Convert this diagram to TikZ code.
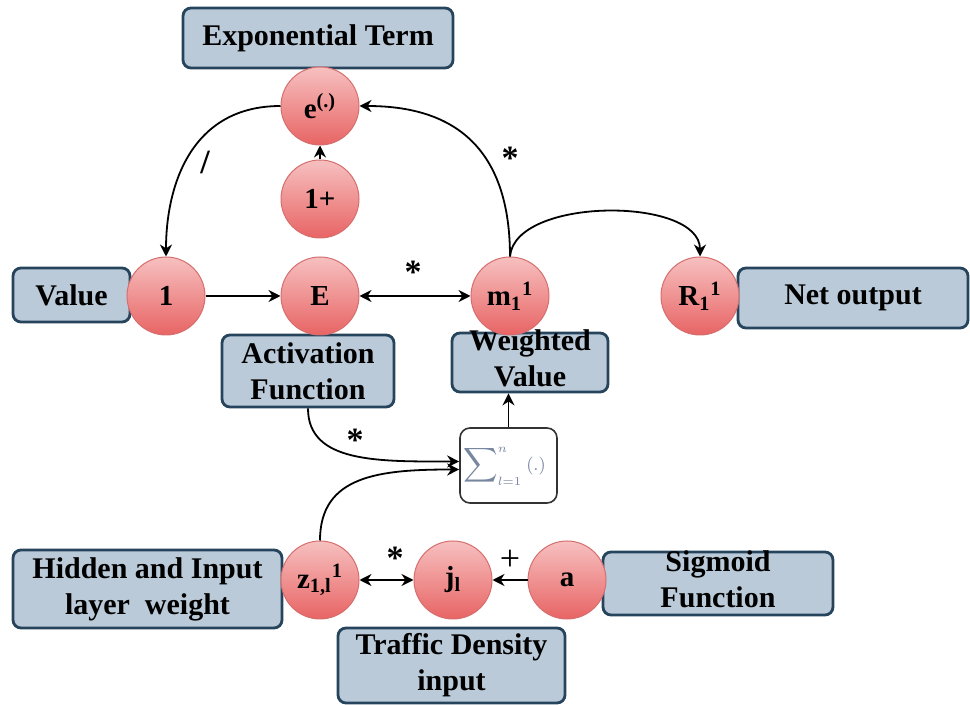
\documentclass[tikz,border=0pt]{standalone}
\usepackage{exscale}
\usepackage{fontspec}
\setmainfont{Liberation Serif}
\usetikzlibrary{arrows.meta}
\definecolor{boxfill}{RGB}{186,202,216}
\definecolor{boxdraw}{RGB}{38,68,92}
\definecolor{ctop}{RGB}{247,192,192}
\definecolor{cbot}{RGB}{232,100,100}
\definecolor{cdraw}{RGB}{214,110,110}
\definecolor{sumtext}{RGB}{120,135,160}
\begin{document}
\begin{tikzpicture}[x=0.5pt,y=-0.5pt,
 tbox/.style={draw=boxdraw, line width=1.4pt, fill=boxfill, rounded corners=4pt, inner sep=0pt, align=center, font=\fontsize{15}{18}\selectfont\bfseries},
 cnode/.style={circle, draw=cdraw, line width=0.5pt, top color=ctop, bottom color=cbot, minimum size=39pt, inner sep=0pt, font=\fontsize{14.5}{17}\selectfont\bfseries},
 conn/.style={line width=0.9pt, -{Stealth[length=6pt,width=6pt]}},
 dconn/.style={line width=0.9pt, {Stealth[length=6pt,width=6pt]}-{Stealth[length=6pt,width=6pt]}},
 op/.style={font=\fontsize{17}{17}\selectfont\bfseries, inner sep=0pt}
]
\fill[white] (0,0) rectangle (970,705);
\useasboundingbox (0,0) rectangle (970,705);

% boxes
\node[tbox, minimum width=135pt, minimum height=30pt] (expt) at (318,38) {Exponential Term};
\node[tbox, minimum width=58.5pt, minimum height=27pt] (val) at (71.5,295) {Value};
\node[tbox, minimum width=115pt, minimum height=30pt] (net) at (853,298) {Net output};
\node[tbox, minimum width=86pt, minimum height=36pt] (act) at (308,371) {Activation\\Function};
\node[tbox, minimum width=78pt, minimum height=29.5pt] (wv) at (530,362.5) {\raisebox{-6pt}{\smash{\begin{tabular}{@{}c@{}}Weighted\\Value\end{tabular}}}};
\node[tbox, minimum width=134.5pt, minimum height=39pt] (hid) at (147.5,589) {Hidden and Input\\layer\ \ weight};
\node[tbox, minimum width=115pt, minimum height=31.5pt] (sig) at (718,583.5) {\raisebox{-6.5pt}{\smash{\begin{tabular}{@{}c@{}}Sigmoid\\Function\end{tabular}}}};
\node[tbox, minimum width=113.5pt, minimum height=37.5pt] (traf) at (451.5,665.5) {Traffic Density\\input};
\node[draw=black!80, line width=0.8pt, rounded corners=5pt, fill=white, minimum width=48.5pt, minimum height=37.5pt, inner sep=0pt, text=sumtext, font=\fontsize{13}{13}\selectfont] (sum) at (508.5,465.5) {\hspace*{-4pt}$\displaystyle\sum\nolimits_{\scriptscriptstyle l=1}^{\scriptscriptstyle n}{\scriptstyle(.)}$};

% circles
\node[cnode] (e) at (320,106) {e\textsuperscript{(.)}};
\node[cnode] (p) at (320,199) {1+};
\node[cnode] (one) at (166,296) {1};
\node[cnode] (E) at (320,296) {E};
\node[cnode] (m) at (510,296) {m\textsubscript{1}\textsuperscript{1}};
\node[cnode] (R) at (700,296) {R\textsubscript{1}\textsuperscript{1}};
\node[cnode] (z) at (320,580) {z\textsubscript{1,l}\textsuperscript{1}};
\node[cnode] (j) at (453,580) {j\textsubscript{l}};
\node[cnode] (a) at (567,580) {a};

% connectors
\draw[conn] (m.north) .. controls +(0,-130) and +(70,0) .. (e.east);
\draw[conn] (e.west) .. controls +(-90,0) and +(0,-70) .. (one.north);
\draw[conn] (p.north) -- (e.south);
\draw[conn] (one.east) -- (E.west);
\draw[dconn] (E.east) -- (m.west);
\draw[conn] (m.north) .. controls +(5,-60) and +(0,-60) .. (R.north);
\draw[conn] (sum.north) -- (sum.north |- wv.south);
\draw[conn] (act.south) .. controls +(0,55) and +(-80,0) .. ([yshift=2pt]sum.west);
\draw[conn] (z.north) .. controls +(0,-65) and +(-80,0) .. ([yshift=-2pt]sum.west);
\draw[dconn] (z.east) -- (j.west);
\draw[conn] (a.west) -- (j.east);

% operator labels
\node[op] (l1) at (205,162) {/};
\node[op] (l2) at (510,158) {*};
\node[op] (l3) at (413,272) {*};
\node[op] (l4) at (355,440) {*};
\node[op] (l5) at (395,558) {*};
\node[op, font=\fontsize{18}{18}\selectfont] (l6) at (510,560) {+};
\end{tikzpicture}
\end{document}
